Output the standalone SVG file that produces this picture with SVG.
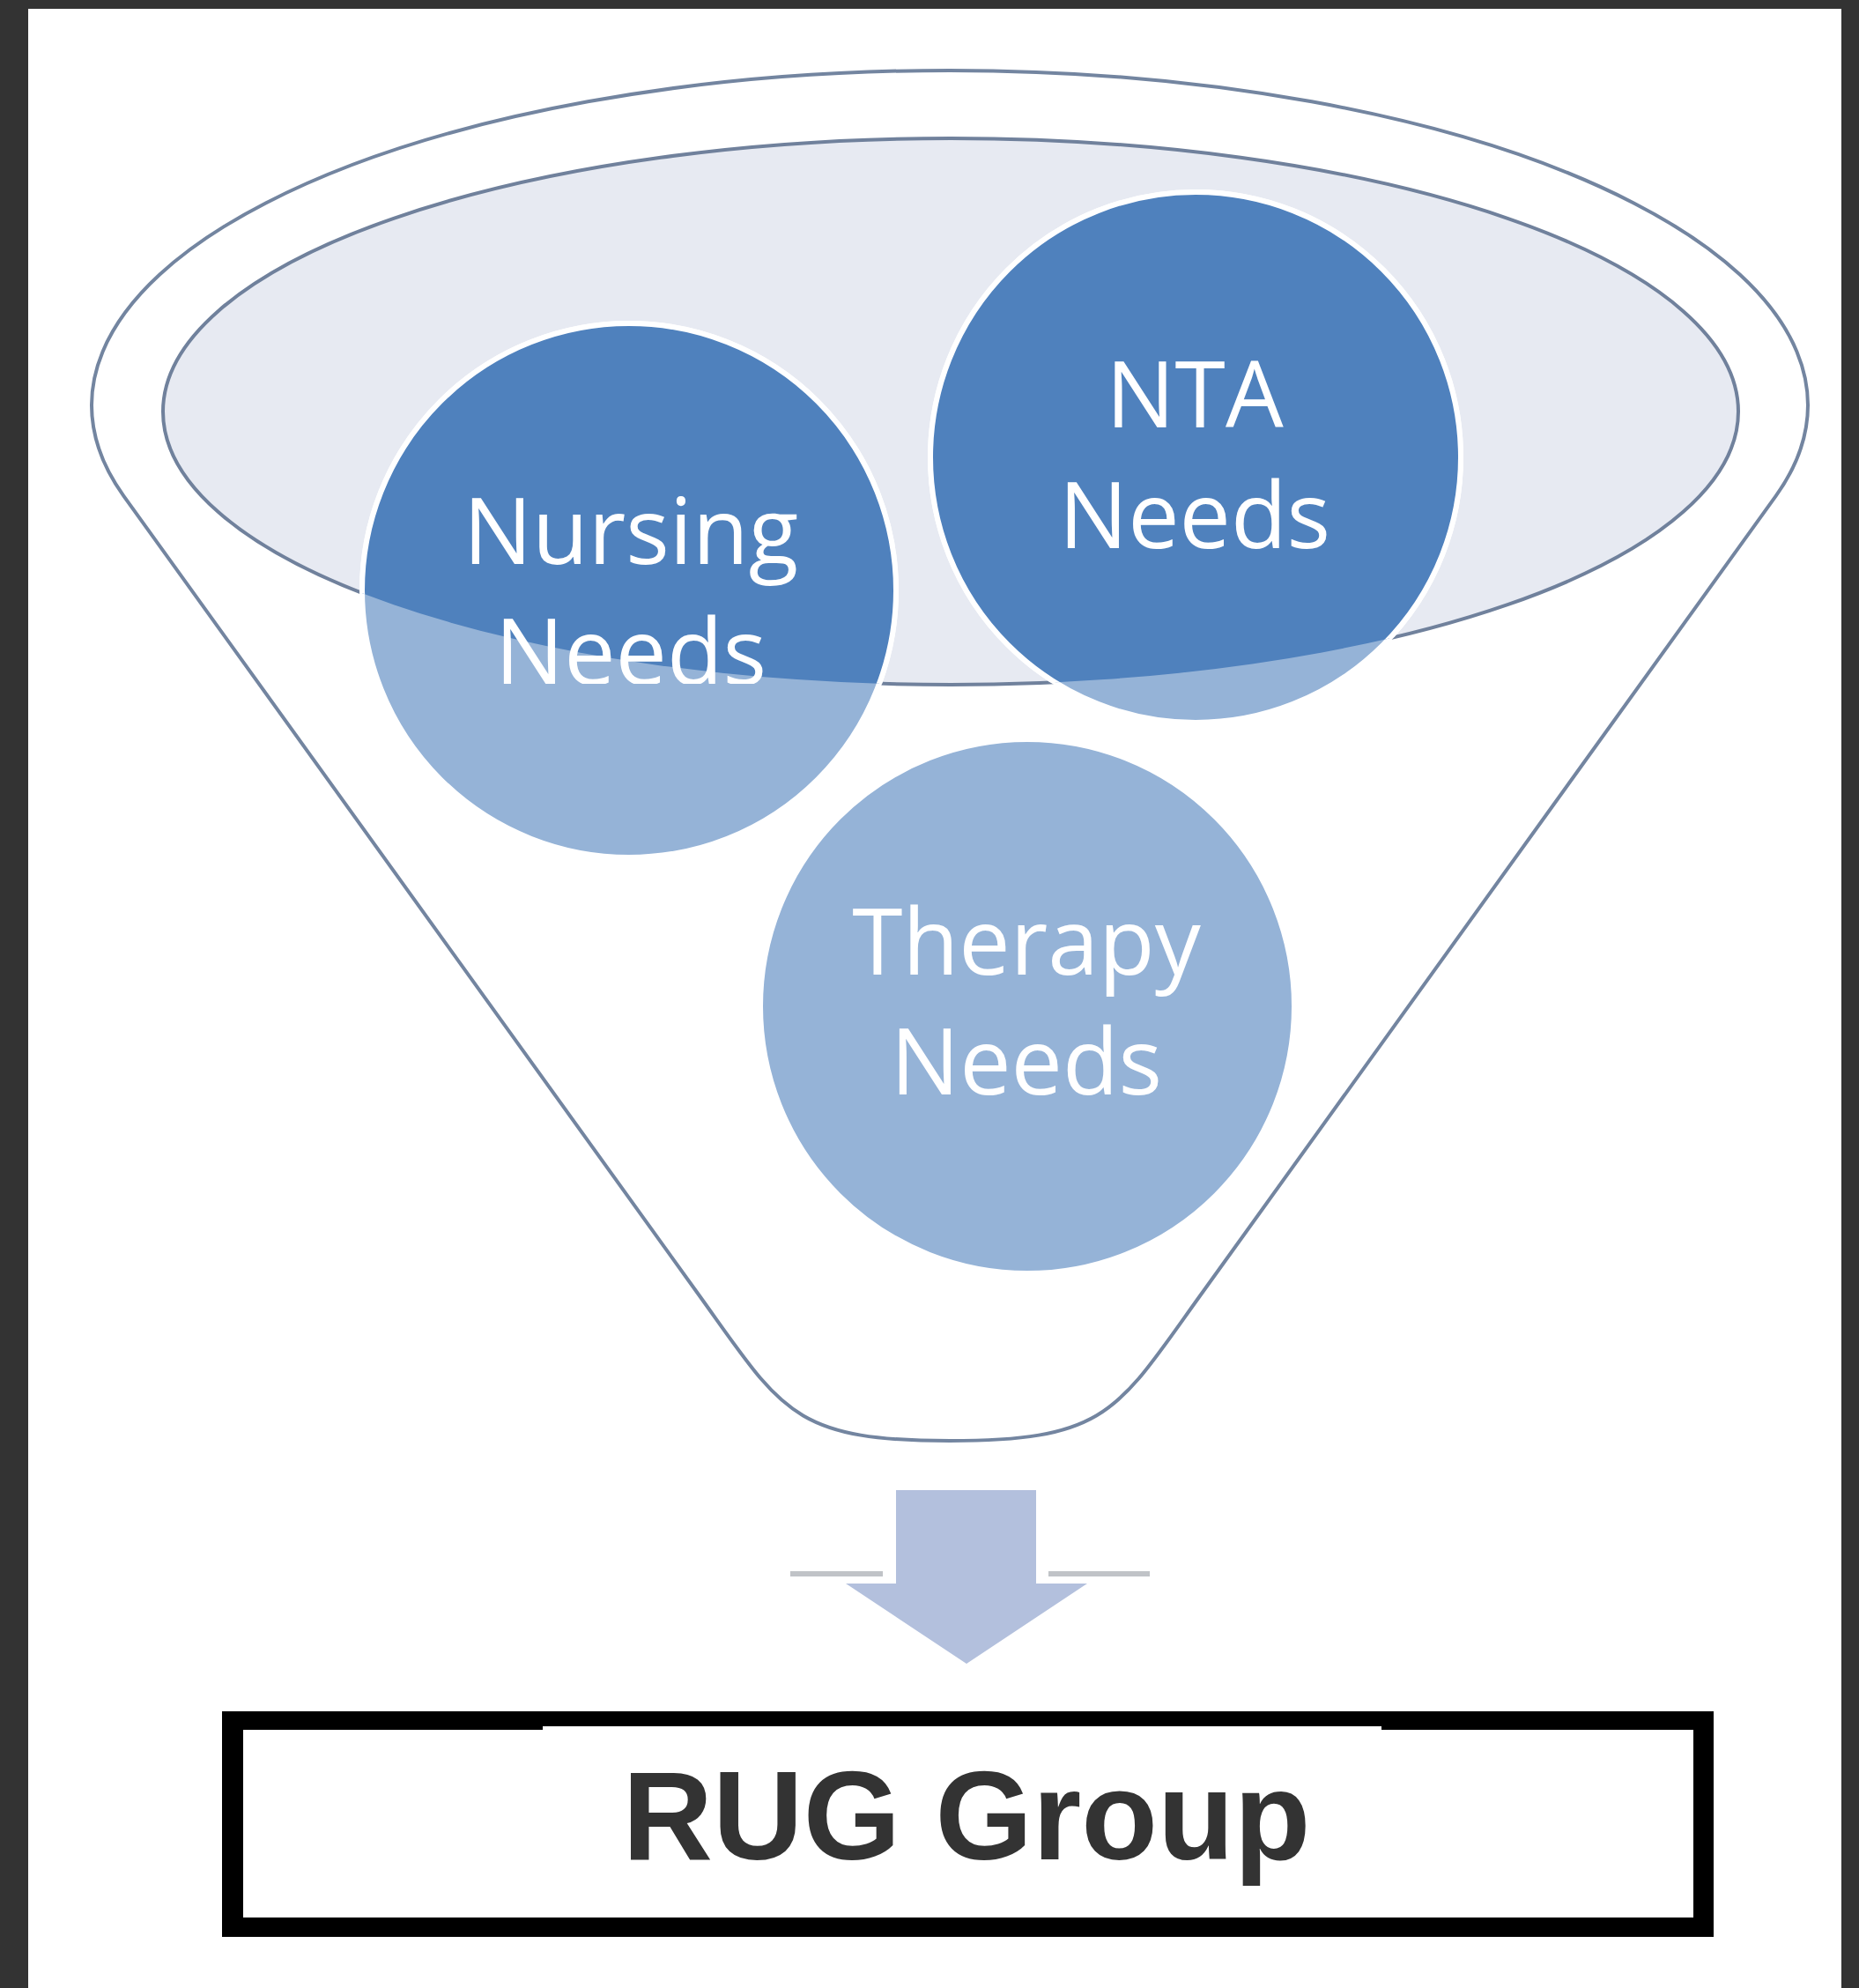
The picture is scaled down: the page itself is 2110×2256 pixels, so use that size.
<svg xmlns="http://www.w3.org/2000/svg" width="2110" height="2256" viewBox="0 0 2110 2256">
  <style>
    .lbl { font-family: "Open Sans", "Noto Sans", "Liberation Sans", sans-serif; font-size: 104px; fill: #ffffff; text-anchor: middle; }
    .light { fill: #95b3d7; stroke: #ffffff; stroke-width: 6; }
    .dark { fill: #4f81bd; stroke: #ffffff; stroke-width: 6; }
    .rug { font-family: "Liberation Sans", Arial, sans-serif; font-size: 142px; font-weight: bold; fill: #333333; text-anchor: middle; }
  </style>
  <defs>
    <clipPath id="mouth">
      <ellipse cx="1079" cy="467" rx="894" ry="310"/>
    </clipPath>
    <clipPath id="cutNeeds">
      <rect x="0" y="0" width="2110" height="776"/>
    </clipPath>
  </defs>

  <!-- page frame -->
  <rect x="0" y="0" width="2110" height="2256" fill="#ffffff"/>
  <rect x="0" y="0" width="32" height="2256" fill="#333333"/>
  <rect x="0" y="0" width="2110" height="10" fill="#333333"/>
  <rect x="2090" y="0" width="20" height="2256" fill="#333333"/>

  <!-- funnel -->
  <g id="node-funnel">
    <path d="M 140.4 562.8 A 974 380 0 1 1 2015.6 562.8 L 1362.4 1470 C 1268.8 1600 1258 1635 1078 1635 C 898 1635 887.2 1600 793.6 1470 Z" fill="#ffffff" stroke="#7385a0" stroke-width="4"/>
    <ellipse cx="1079" cy="467" rx="894" ry="310" fill="#e7eaf2" stroke="#70819c" stroke-width="4"/>
  </g>

  <!-- Nursing Needs -->
  <g id="node-nursing">
    <circle class="light" cx="714" cy="670" r="303"/>
    <circle class="dark" cx="714" cy="670" r="303" clip-path="url(#mouth)"/>
    <text class="lbl" x="716" y="640">Nursing</text>
    <text class="lbl" x="716" y="777" clip-path="url(#cutNeeds)">Needs</text>
  </g>

  <!-- NTA Needs -->
  <g id="node-nta">
    <circle class="light" cx="1357" cy="519" r="301"/>
    <circle class="dark" cx="1357" cy="519" r="301" clip-path="url(#mouth)"/>
    <text class="lbl" x="1356" y="485">NTA</text>
    <text class="lbl" x="1356" y="622">Needs</text>
  </g>

  <!-- Therapy Needs -->
  <g id="node-therapy">
    <circle class="light" cx="1166" cy="1142" r="303"/>
    <text class="lbl" x="1165" y="1106">Therapy</text>
    <text class="lbl" x="1165" y="1242">Needs</text>
  </g>

  <!-- connectors -->
  <g id="connectors">
    <line x1="897" y1="1786" x2="1002" y2="1786" stroke="#c0c3c7" stroke-width="6"/>
    <line x1="1190" y1="1786" x2="1305" y2="1786" stroke="#c0c3c7" stroke-width="6"/>
    <polygon points="1017,1691 1176,1691 1176,1797 1234,1797 1097,1888 960,1797 1017,1797" fill="#b3c0dd"/>
  </g>

  <!-- RUG Group -->
  <g id="node-rug">
    <rect x="252" y="1942" width="1693" height="256" fill="#000000"/>
    <rect x="276" y="1963" width="1646" height="213" fill="#ffffff"/>
    <rect x="616" y="1959" width="952" height="6" fill="#ffffff"/>
    <text class="rug" x="1097" y="2110">RUG Group</text>
  </g>
</svg>
